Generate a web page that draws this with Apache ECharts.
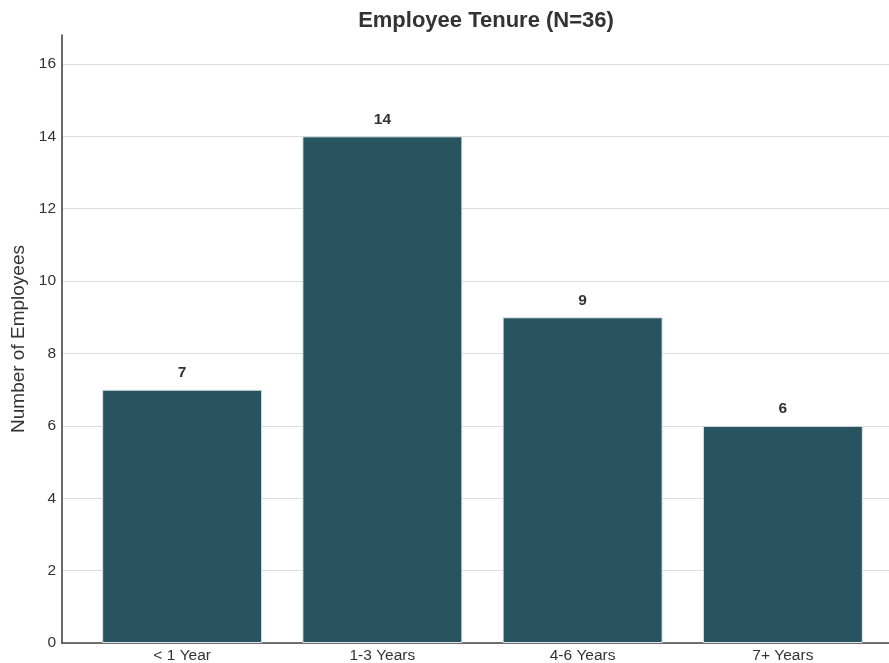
<!DOCTYPE html>
<html>
<head>
<meta charset="utf-8">
<style>
  html, body { margin: 0; padding: 0; background: #ffffff; }
  #chart { width: 889px; height: 663px; }
</style>
<script src="https://cdn.jsdelivr.net/npm/echarts@6/dist/echarts.min.js"></script>
</head>
<body>
<div id="chart"></div>
<script>
// Tenure buckets and head counts
const categories = ['< 1 Year', '1-3 Years', '4-6 Years', '7+ Years'];
const employees = [7, 14, 9, 6];
const yTicks = [0, 2, 4, 6, 8, 10, 12, 14, 16];

const positions = categories.map((_, i) => i);
const barData = employees.map((v, i) => [positions[i], v]);

const chart = echarts.init(document.getElementById('chart'), null, { renderer: 'canvas' });
const font = 'Liberation Sans, Arial, sans-serif';

chart.setOption({
  animation: false,
  backgroundColor: '#ffffff',
  title: {
    text: 'Employee Tenure (N=36)',
    left: 481,
    top: 5,
    textAlign: 'center',
    textStyle: { fontFamily: font, fontSize: 22, fontWeight: 'bold', color: '#333333' }
  },
  // plot area runs a little past the right edge of the canvas
  grid: {
    left: 62, top: 35, height: 608, width: 841,
    containLabel: false,
    outerBoundsMode: 'none'
  },
  xAxis: {
    type: 'value',
    min: -0.6,
    max: 3.6,
    splitLine: { show: false },
    axisLine: { show: true, onZero: false, lineStyle: { color: '#444444', width: 1.6 } },
    axisTick: { show: false },
    axisLabel: {
      customValues: positions,
      formatter: v => categories[Math.round(v)],
      fontFamily: font, fontSize: 15.5, color: '#333333', margin: 5
    }
  },
  yAxis: {
    type: 'value',
    min: 0,
    max: 16.8,
    interval: 2,
    name: 'Number of Employees',
    nameLocation: 'middle',
    nameGap: 32,
    nameTextStyle: { fontFamily: font, fontSize: 19, color: '#333333' },
    axisLine: { show: true, onZero: false, lineStyle: { color: '#444444', width: 1.6 } },
    axisTick: { show: false },
    axisLabel: {
      customValues: yTicks,
      fontFamily: font, fontSize: 15.5, color: '#333333', margin: 6
    },
    splitLine: { show: true, showMaxLine: false, lineStyle: { color: '#dddddd', width: 1 } }
  },
  series: [{
    type: 'bar',
    data: barData,
    barWidth: 160,
    itemStyle: { color: '#285460', borderColor: '#dfe5e7', borderWidth: 1 },
    label: {
      show: true,
      position: 'top',
      distance: 9,
      formatter: p => p.value[1],
      fontFamily: font, fontSize: 15.5, fontWeight: 'bold', color: '#333333'
    }
  }]
});
</script>
</body>
</html>
